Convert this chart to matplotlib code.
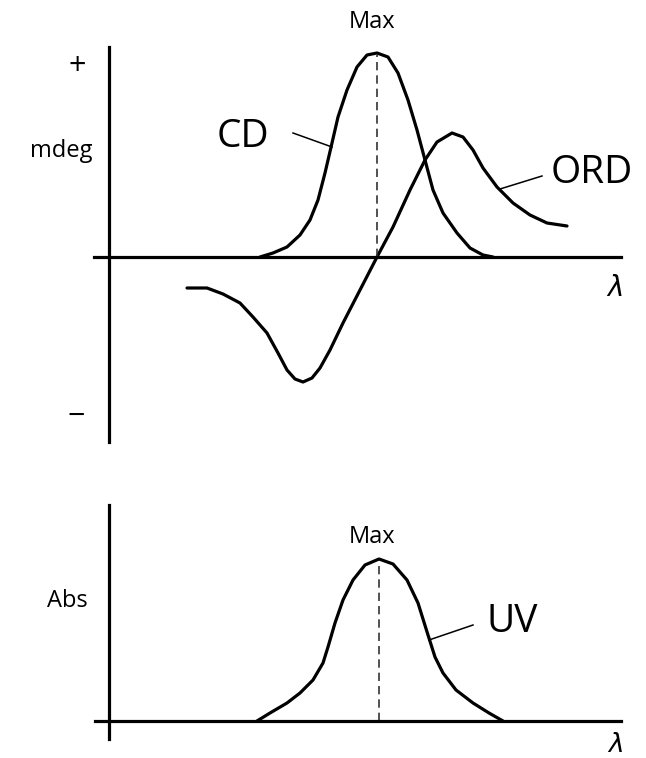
import matplotlib
matplotlib.use('Agg')
import matplotlib.pyplot as plt

plt.rcParams['font.family'] = ['Open Sans', 'DejaVu Sans']

# upper panel: CD and ORD (x = wavelength units, y = mdeg units)
cd_x = [15.1, 16.4, 17.8, 19.1, 20.1, 20.9, 21.6, 22.3, 22.9, 23.8, 24.8, 25.8, 26.8, 27.9, 28.9,
        29.9, 30.8, 31.6, 32.4, 33.4, 34.8, 36.1, 37.4, 38.4]
cd_y = [0.0, 0.4, 1.0, 2.2, 3.7, 5.7, 8.4, 11.4, 14.0, 16.7, 19.0, 20.2, 20.4, 20.0, 18.4,
        15.7, 12.7, 9.7, 6.7, 4.4, 2.4, 0.9, 0.2, 0.0]

ord_x = [7.8, 9.8, 11.4, 13.1, 14.4, 15.8, 16.9, 17.8, 18.6, 19.4, 20.3, 21.1, 22.1, 23.4, 25.1,
         26.8, 28.4, 30.1, 31.6, 32.8, 34.3, 35.4, 36.4, 37.4, 38.8, 40.4, 42.1, 43.8, 45.8]
ord_y = [-3.1, -3.1, -3.7, -4.6, -6.0, -7.6, -9.6, -11.3, -12.2, -12.5, -12.1, -11.1, -9.3, -6.6, -3.3,
         0.0, 3.0, 6.7, 9.7, 11.5, 12.4, 12.0, 10.7, 8.9, 7.0, 5.4, 4.2, 3.4, 3.1]
cd_max = 26.8

# lower panel: UV absorbance
uv_x = [14.8, 16.1, 17.8, 19.1, 20.4, 21.4, 21.9, 22.6, 23.4, 24.4, 25.6, 27.0, 28.4, 29.8, 30.9,
        31.9, 32.6, 33.4, 34.7, 36.4, 38.0, 39.4]
uv_y = [0.0, 0.8, 1.8, 2.8, 4.1, 5.8, 7.4, 9.8, 12.1, 14.1, 15.6, 16.2, 15.7, 14.1, 11.8,
        8.6, 6.4, 4.8, 3.1, 1.8, 0.8, 0.0]
uv_max = 27.0

W, H = 646, 758
fig = plt.figure(figsize=(W / 100, H / 100), dpi=100)
ax1 = fig.add_axes([94 / W, (H - 442) / H, 527 / W, 395 / H])
ax2 = fig.add_axes([95 / W, (H - 739) / H, 526 / W, 234 / H])

LW = 2.3
for ax in (ax1, ax2):
    for s in ['top', 'right']:
        ax.spines[s].set_visible(False)
    ax.spines['left'].set_position(('data', 0))
    ax.spines['bottom'].set_position(('data', 0))
    ax.spines['left'].set_linewidth(LW)
    ax.spines['bottom'].set_linewidth(LW)
    ax.set_xticks([])
    ax.set_yticks([])
    ax.patch.set_alpha(0)

ax1.set_xlim(-1.5, 51.2)
ax1.set_ylim(-18.5, 21.0)
ax2.set_xlim(-1.4, 51.2)
ax2.set_ylim(-1.8, 21.6)

# curves
kw = dict(color='black', lw=LW, solid_capstyle='round', solid_joinstyle='round')
ax1.plot(cd_x, cd_y, **kw)
ax1.plot(ord_x, ord_y, **kw)
ax1.plot([cd_max, cd_max], [0, 20.2], color='#333333', lw=1.2, dashes=(5, 3))
ax2.plot(uv_x, uv_y, **kw)
ax2.plot([uv_max, uv_max], [0, 16.0], color='#333333', lw=1.2, dashes=(5, 3))

# leader lines
ax1.plot([18.4, 22.3], [12.4, 11.0], color='black', lw=1.1)
ax1.plot([39.1, 43.3], [6.8, 8.1], color='black', lw=1.1)
ax2.plot([32.0, 36.4], [8.1, 9.6], color='black', lw=1.1)

# labels upper
ax1.text(26.3, 23.5, 'Max', fontsize=17, ha='center', va='center')
ax1.text(-3.2, 19.0, '+', fontsize=22, ha='center', va='center')
ax1.text(-1.6, 10.0, 'mdeg', fontsize=17, ha='right', va='baseline')
ax1.text(-3.3, -16.0, '\u2212', fontsize=22, ha='center', va='center')
ax1.text(13.4, 11.0, 'CD', fontsize=28, ha='center', va='baseline')
ax1.text(48.3, 7.4, 'ORD', fontsize=28, ha='center', va='baseline')
ax1.text(50.6, -3.1, '\u03bb', fontsize=20, style='italic', family='DejaVu Sans', ha='center', va='center')

# labels lower
ax2.text(26.3, 17.8, 'Max', fontsize=17, ha='center', va='baseline')
ax2.text(-2.1, 11.4, 'Abs', fontsize=17, ha='right', va='baseline')
ax2.text(40.3, 8.9, 'UV', fontsize=28, ha='center', va='baseline')
ax2.text(50.7, -2.4, '\u03bb', fontsize=19, style='italic', family='DejaVu Sans', ha='center', va='center')

fig.savefig('out.png', dpi=100, facecolor='white')
